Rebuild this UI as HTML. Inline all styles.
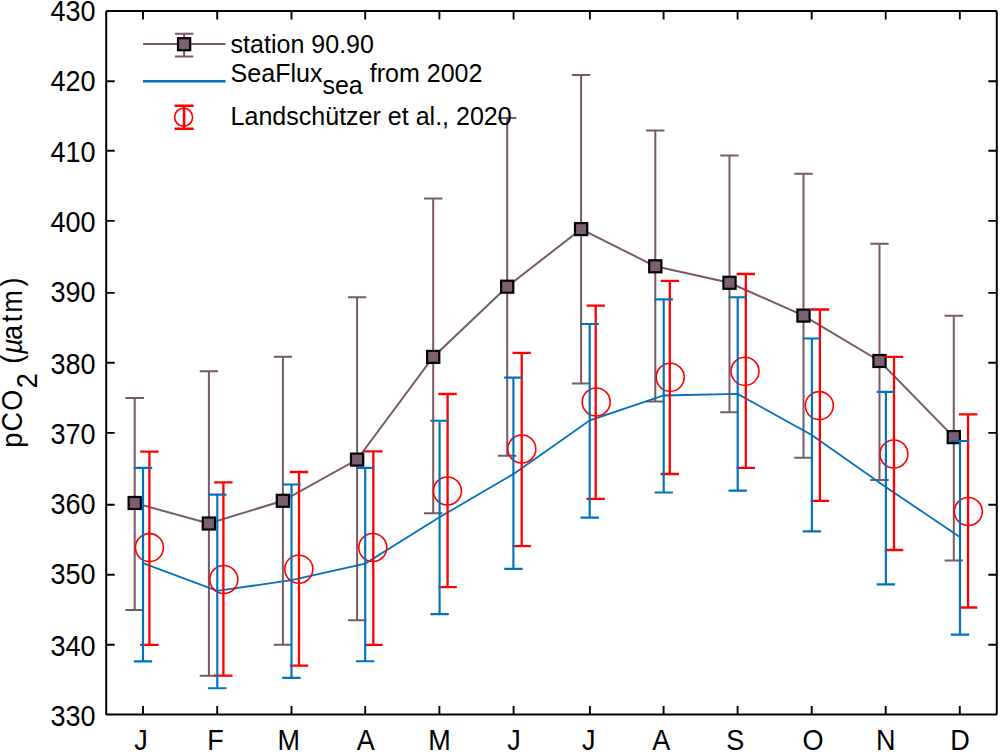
<!DOCTYPE html>
<html lang="en">
<head>
<meta charset="utf-8">
<title>pCO2 seasonal cycle</title>
<style>
html,body{margin:0;padding:0;background:#fff;}
body{width:1000px;height:753px;overflow:hidden;}
svg{display:block;}
</style>
</head>
<body>
<svg width="1000" height="753" viewBox="0 0 1000 753">
<rect width="1000" height="753" fill="#fff"/>
<g fill="none" stroke="#77596B" stroke-width="2">
<polyline points="134.7,503.0 208.9,523.5 282.9,500.8 357.1,459.6 433.2,356.9 507.2,286.7 581.1,229.1 655.3,266.3 729.5,282.8 803.5,315.6 879.5,361.0 953.8,437.1"/>
<path d="M134.7 398.0V610.0M125.49999999999999 398.0H143.89999999999998M125.49999999999999 610.0H143.89999999999998"/>
<path d="M208.9 371.2V675.7M199.70000000000002 371.2H218.1M199.70000000000002 675.7H218.1"/>
<path d="M282.9 356.8V644.8M273.7 356.8H292.09999999999997M273.7 644.8H292.09999999999997"/>
<path d="M357.1 297.3V620.3M347.90000000000003 297.3H366.3M347.90000000000003 620.3H366.3"/>
<path d="M433.2 198.4V513.2M424.0 198.4H442.4M424.0 513.2H442.4"/>
<path d="M507.2 118.0V455.7M498.0 118.0H516.4M498.0 455.7H516.4"/>
<path d="M581.1 75.1V383.5M571.9 75.1H590.3000000000001M571.9 383.5H590.3000000000001"/>
<path d="M655.3 130.4V401.6M646.0999999999999 130.4H664.5M646.0999999999999 401.6H664.5"/>
<path d="M729.5 155.4V412.3M720.3 155.4H738.7M720.3 412.3H738.7"/>
<path d="M803.5 173.8V457.7M794.3 173.8H812.7M794.3 457.7H812.7"/>
<path d="M879.5 243.8V480.1M870.3 243.8H888.7M870.3 480.1H888.7"/>
<path d="M953.8 315.7V560.5M944.5999999999999 315.7H963.0M944.5999999999999 560.5H963.0"/>
</g>
<polyline fill="none" stroke="#0072BD" stroke-width="1.8" points="143.00,563.2 217.20,590.8 291.50,580.2 365.20,563.6 439.40,517.3 513.60,473.9 589.90,420.3 663.60,395.5 737.60,393.9 811.70,435.0 885.70,487.0 959.80,537.0"/>
<g fill="#7D5F72" stroke="#000" stroke-width="2.2">
<rect x="128.60" y="497.00" width="12.2" height="12.0"/>
<rect x="202.80" y="517.50" width="12.2" height="12.0"/>
<rect x="276.80" y="494.80" width="12.2" height="12.0"/>
<rect x="351.00" y="453.60" width="12.2" height="12.0"/>
<rect x="427.10" y="350.90" width="12.2" height="12.0"/>
<rect x="501.10" y="280.70" width="12.2" height="12.0"/>
<rect x="575.00" y="223.10" width="12.2" height="12.0"/>
<rect x="649.20" y="260.30" width="12.2" height="12.0"/>
<rect x="723.40" y="276.80" width="12.2" height="12.0"/>
<rect x="797.40" y="309.60" width="12.2" height="12.0"/>
<rect x="873.40" y="355.00" width="12.2" height="12.0"/>
<rect x="947.70" y="431.10" width="12.2" height="12.0"/>
</g>
<g fill="none" stroke="#FF0000" stroke-width="2.3">
<path d="M149.4 451.6V644.8M140.2 451.6H158.6M140.2 644.8H158.6"/>
<path d="M223.4 482.4V675.7M214.2 482.4H232.6M214.2 675.7H232.6"/>
<path d="M299.0 472.0V665.6M289.8 472.0H308.2M289.8 665.6H308.2"/>
<path d="M373.3 451.3V644.8M364.1 451.3H382.5M364.1 644.8H382.5"/>
<path d="M447.6 394.0V587.2M438.4 394.0H456.8M438.4 587.2H456.8"/>
<path d="M521.7 352.8V546.2M512.5 352.8H530.9M512.5 546.2H530.9"/>
<path d="M595.7 305.6V498.9M586.5 305.6H604.9M586.5 498.9H604.9"/>
<path d="M669.8 280.9V474.0M660.6 280.9H679.0M660.6 474.0H679.0"/>
<path d="M745.8 274.0V467.9M736.6 274.0H755.0M736.6 467.9H755.0"/>
<path d="M819.9 309.5V500.8M810.7 309.5H829.1M810.7 500.8H829.1"/>
<path d="M894.0 356.8V550.0M884.8 356.8H903.2M884.8 550.0H903.2"/>
<path d="M968.1 414.4V607.5M958.9 414.4H977.3M958.9 607.5H977.3"/>
</g>
<g fill="none" stroke="#FF0000" stroke-width="1.6">
<circle cx="149.4" cy="547.6" r="14.0"/>
<circle cx="223.8" cy="579.5" r="14.0"/>
<circle cx="298.8" cy="569.2" r="14.0"/>
<circle cx="372.8" cy="547.5" r="14.0"/>
<circle cx="447.4" cy="491.0" r="14.0"/>
<circle cx="521.8" cy="449.0" r="14.0"/>
<circle cx="596.2" cy="402.0" r="14.0"/>
<circle cx="670.2" cy="377.3" r="14.0"/>
<circle cx="745.0" cy="371.3" r="14.0"/>
<circle cx="819.3" cy="405.6" r="14.0"/>
<circle cx="893.9" cy="454.0" r="14.0"/>
<circle cx="968.3" cy="511.5" r="14.0"/>
</g>
<g fill="none" stroke="#0072BD" stroke-width="2.15">
<path d="M143.0 467.8V661.4M133.8 467.8H152.2M133.8 661.4H152.2"/>
<path d="M217.3 494.6V688.2M208.1 494.6H226.5M208.1 688.2H226.5"/>
<path d="M291.5 484.5V677.9M282.3 484.5H300.7M282.3 677.9H300.7"/>
<path d="M365.2 467.9V661.2M356.0 467.9H374.4M356.0 661.2H374.4"/>
<path d="M439.6 420.7V614.1M430.4 420.7H448.8M430.4 614.1H448.8"/>
<path d="M513.4 377.6V568.8M504.2 377.6H522.6M504.2 568.8H522.6"/>
<path d="M589.7 324.0V517.6M580.5 324.0H598.9M580.5 517.6H598.9"/>
<path d="M663.7 299.3V492.5M654.5 299.3H672.9M654.5 492.5H672.9"/>
<path d="M737.7 297.2V490.6M728.5 297.2H746.9M728.5 490.6H746.9"/>
<path d="M811.9 338.5V531.4M802.7 338.5H821.1M802.7 531.4H821.1"/>
<path d="M885.9 391.9V584.4M876.7 391.9H895.1M876.7 584.4H895.1"/>
<path d="M960.0 441.0V634.6M950.8 441.0H969.2M950.8 634.6H969.2"/>
</g>
<g fill="none" stroke="#000" stroke-width="1.9">
<path d="M143.00 714.6v-8.5M143.00 11.1v8.5"/>
<path d="M217.20 714.6v-8.5M217.20 11.1v8.5"/>
<path d="M291.50 714.6v-8.5M291.50 11.1v8.5"/>
<path d="M365.20 714.6v-8.5M365.20 11.1v8.5"/>
<path d="M439.40 714.6v-8.5M439.40 11.1v8.5"/>
<path d="M513.60 714.6v-8.5M513.60 11.1v8.5"/>
<path d="M589.90 714.6v-8.5M589.90 11.1v8.5"/>
<path d="M663.60 714.6v-8.5M663.60 11.1v8.5"/>
<path d="M737.60 714.6v-8.5M737.60 11.1v8.5"/>
<path d="M811.70 714.6v-8.5M811.70 11.1v8.5"/>
<path d="M885.70 714.6v-8.5M885.70 11.1v8.5"/>
<path d="M959.80 714.6v-8.5M959.80 11.1v8.5"/>
<path d="M106.2 644.70h8.5M996.8 644.70h-8.5"/>
<path d="M106.2 574.80h8.5M996.8 574.80h-8.5"/>
<path d="M106.2 504.70h8.5M996.8 504.70h-8.5"/>
<path d="M106.2 432.90h8.5M996.8 432.90h-8.5"/>
<path d="M106.2 362.80h8.5M996.8 362.80h-8.5"/>
<path d="M106.2 292.90h8.5M996.8 292.90h-8.5"/>
<path d="M106.2 220.90h8.5M996.8 220.90h-8.5"/>
<path d="M106.2 150.80h8.5M996.8 150.80h-8.5"/>
<path d="M106.2 81.30h8.5M996.8 81.30h-8.5"/>
</g>
<rect x="106.2" y="11.1" width="890.6" height="703.5" fill="none" stroke="#000" stroke-width="2.0" rx="1.2"/>
<g font-family="'Liberation Sans', Arial, sans-serif" font-size="29.8" fill="#000">
<g text-anchor="end">
<text transform="translate(95.6 725.7) scale(0.908 1)">330</text>
<text transform="translate(95.6 656.3) scale(0.908 1)">340</text>
<text transform="translate(95.6 584.1) scale(0.908 1)">350</text>
<text transform="translate(95.6 514.2) scale(0.908 1)">360</text>
<text transform="translate(95.6 444.1) scale(0.908 1)">370</text>
<text transform="translate(95.6 374.2) scale(0.908 1)">380</text>
<text transform="translate(95.6 302.1) scale(0.908 1)">390</text>
<text transform="translate(95.6 232.3) scale(0.908 1)">400</text>
<text transform="translate(95.6 162.1) scale(0.908 1)">410</text>
<text transform="translate(95.6 90.5) scale(0.908 1)">420</text>
<text transform="translate(95.6 20.7) scale(0.908 1)">430</text>
</g>
<text transform="translate(134.2 750.4) scale(0.908 1)">J</text>
<text transform="translate(207.3 750.4) scale(0.908 1)">F</text>
<text transform="translate(277.6 750.4) scale(0.908 1)">M</text>
<text transform="translate(356.7 750.4) scale(0.908 1)">A</text>
<text transform="translate(428.2 750.4) scale(0.908 1)">M</text>
<text transform="translate(507.2 750.4) scale(0.908 1)">J</text>
<text transform="translate(582.0 750.4) scale(0.908 1)">J</text>
<text transform="translate(652.3 750.4) scale(0.908 1)">A</text>
<text transform="translate(726.3 750.4) scale(0.908 1)">S</text>
<text transform="translate(802.5 750.4) scale(0.908 1)">O</text>
<text transform="translate(876.0 750.4) scale(0.908 1)">N</text>
<text transform="translate(950.2 750.4) scale(0.908 1)">D</text>
<text font-size="28.6" transform="translate(22.2 450) rotate(-90) scale(0.946 1)" x="2.5 19.5 41.6 65.3 83.5 91.1 101.4 116.4 135.1 145.2 172.8">pCO<tspan dy="14.6">2</tspan><tspan dy="-14.6"> (</tspan><tspan font-style="italic">µ</tspan>atm)</text>
</g>
<g fill="none" stroke="#77596B" stroke-width="2">
<path d="M143 44.1H225.5M184.1 33.8V56.6M175 33.8H193.3M175 56.6H193.3"/>
</g>
<rect x="178.0" y="38.2" width="12.2" height="12.0" fill="#7D5F72" stroke="#000" stroke-width="2.2"/>
<path d="M143 81.2H225.5" stroke="#0072BD" stroke-width="2.4" fill="none"/>
<path d="M184.1 105.8V128.7M174.6 105.8H193.7M174.6 128.7H193.7" stroke="#FF0000" stroke-width="2.5" fill="none"/>
<circle cx="183.6" cy="117.2" r="9" stroke="#FF0000" stroke-width="1.7" fill="none"/>
<g font-family="'Liberation Sans', Arial, sans-serif" font-size="26" fill="#000">
<text transform="translate(230.6 52.9) scale(0.963 1)">station 90.90</text>
<text transform="translate(230.6 81.6) scale(0.963 1)">SeaFlux<tspan dy="12.6">sea</tspan><tspan dy="-12.6"> from 2002</tspan></text>
<text transform="translate(230.6 125.2) scale(0.963 1)">Landschützer et al., 2020</text>
</g>
</svg>
</body>
</html>
